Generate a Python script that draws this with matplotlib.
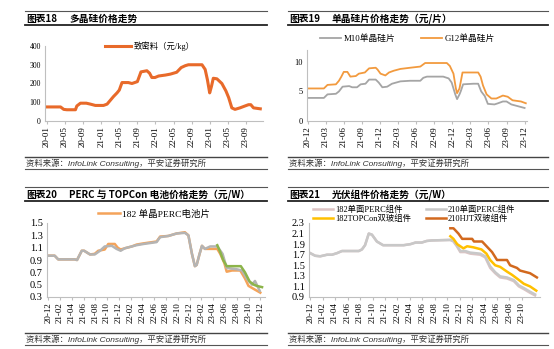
import matplotlib
matplotlib.use("Agg")
import matplotlib.pyplot as plt
from matplotlib.lines import Line2D

plt.rcParams['font.family'] = ['Liberation Serif', 'Noto Sans CJK SC']

W, H = 554, 349

# ---- data (x = months since first label month) ----
# chart 18: polysilicon, months since 2020-01
poly_x = [0, 3, 3.7, 4.4, 6.3, 6.6, 7.4, 8.7, 9.6, 10.7, 12.5, 13.3, 14, 14.7, 15.5, 16, 16.6, 18, 18.8,
          20, 20.8, 22.1, 22.7, 23.2, 23.9, 24.7, 26.2, 27.3, 28.7, 29.7, 30.6, 31.3, 34.3, 35, 35.5, 36,
          36.4, 36.8, 37.6, 38.7, 39.6, 40.2, 40.9, 41.6, 42.7, 43.8, 44.6, 45.1, 45.7, 47.2]
poly_y = [75, 75, 62, 60, 60, 80, 95, 95, 90, 83, 83, 90, 110, 130, 150, 165, 205, 205, 200,
          210, 262, 268, 255, 232, 232, 240, 245, 250, 260, 285, 295, 300, 300, 275, 220, 150,
          185, 228, 225, 200, 160, 125, 70, 62, 70, 80, 87, 87, 70, 65]
poly_ticks = ['20-01', '20-05', '20-09', '21-01', '21-05', '21-09', '22-01', '22-05', '22-09',
              '23-01', '23-05', '23-09']

# chart 19: wafers, months since 2020-12
m10_x = [0, 2.7, 3.3, 4.7, 5.2, 5.8, 6.9, 7.4, 8.2, 8.8, 9.6, 10.2, 11.3, 11.8, 12.4, 13.2, 14, 15.4, 17,
         18.7, 19.2, 19.8, 22.5, 23.4, 23.9, 24.5, 24.8, 25.2, 25.4, 25.8, 27.5, 28.3, 28.8, 29.4, 29.9,
         31, 31.6, 32.4, 33, 33.8, 34.9, 36]
m10_y = [3.9, 3.9, 4.5, 4.6, 5.0, 5.8, 5.9, 5.7, 5.7, 6.2, 6.3, 7.0, 7.0, 6.5, 5.7, 5.8, 6.3, 6.7, 6.8,
         6.8, 7.3, 7.5, 7.5, 7.2, 6.5, 4.5, 3.7, 4.5, 5.0, 6.2, 6.3, 6.3, 5.0, 4.2, 2.9,
         2.8, 3.0, 3.3, 3.3, 2.8, 2.5, 2.2]
g12_x = [0, 2.7, 3.3, 4.7, 5.2, 5.6, 6, 6.6, 7.1, 8, 8.5, 9.5, 10.2, 11.3, 11.6, 12.1, 12.9, 13.5, 14.3,
         15.4, 17, 18.7, 19.5, 23.1, 23.6, 24.2, 24.6, 24.8, 25.2, 25.7, 28.3, 28.7, 29.1, 29.7, 30.5,
         31.3, 32.4, 33.2, 34, 35.4, 36.2]
g12_y = [5.5, 5.5, 6.1, 6.2, 6.8, 7.5, 8.3, 8.3, 7.5, 7.6, 8.0, 8.2, 8.9, 9.0, 8.7, 8.0, 7.7, 8.2, 8.5,
         8.8, 9.0, 9.2, 9.8, 9.8, 9.3, 8.0, 5.5, 4.7, 5.5, 8.2, 8.2, 7.5, 6.0, 4.5, 3.8,
         3.8, 4.3, 4.1, 3.5, 3.3, 3.0]
wafer_ticks = ['20-12', '21-03', '21-06', '21-09', '21-12', '22-03', '22-06', '22-09', '22-12',
               '23-03', '23-06', '23-09', '23-12']

# chart 20: cells, months since 2020-12
cell_gray_x = [0, 1.1, 1.7, 4.5, 4.9, 5.7, 6.1, 7.1, 7.9, 8.8, 9.6, 10.8, 11.6, 12.3, 13, 14.2, 15, 16.2,
               18.4, 19, 20.4, 21.8, 23.2, 23.8, 24.4, 24.9, 25.2, 25.7, 26.1, 26.6, 27.5, 28.7, 29.6,
               30.3, 32, 32.9, 33.7, 34.6, 35.1, 35.9]
cell_gray_y = [0.97, 0.97, 0.91, 0.91, 0.90, 1.05, 1.05, 0.99, 0.99, 1.05, 1.12, 1.13, 1.08, 1.05, 1.09,
               1.12, 1.14, 1.16, 1.19, 1.27, 1.29, 1.33, 1.34, 1.30, 1.00, 0.80, 0.82, 1.00, 1.13, 1.08,
               1.12, 1.12, 1.00, 0.77, 0.75, 0.73, 0.60, 0.50, 0.56, 0.40]
perc182_x = [0, 1.1, 1.7, 4.5, 4.9, 5.7, 6.1, 7.1, 7.9, 8.5, 9.6, 10.2, 11.3, 11.8, 12.3, 13, 14.2, 15,
             16.2, 18.4, 19, 20.4, 21.8, 23.2, 23.8, 24.4, 24.9, 25.2, 25.7, 26.1, 26.6, 28.7, 29.2,
             29.9, 30.3, 31.2, 32.6, 33.4, 34, 34.9, 36]
perc182_y = [0.97, 0.97, 0.91, 0.91, 0.90, 1.05, 1.05, 0.99, 1.00, 1.05, 1.07, 1.16, 1.16, 1.10, 1.07,
             1.09, 1.12, 1.15, 1.17, 1.20, 1.28, 1.29, 1.33, 1.35, 1.30, 1.00, 0.80, 0.82, 1.00, 1.13,
             1.08, 1.08, 1.00, 0.85, 0.71, 0.73, 0.73, 0.60, 0.48, 0.43, 0.37]
topcon_cell_x = [28.7, 29.2, 29.7, 30.3, 32.7, 33.4, 34.2, 34.9, 35.4, 36.3]
topcon_cell_y = [1.14, 1.03, 0.90, 0.80, 0.80, 0.70, 0.55, 0.50, 0.48, 0.46]
cell_ticks = ['20-12', '21-02', '21-04', '21-06', '21-08', '21-10', '21-12', '22-02', '22-04', '22-06',
              '22-08', '22-10', '22-12', '23-02', '23-04', '23-06', '23-08', '23-10', '23-12']

# chart 21: modules, months since 2020-12
perc_mod_x = [0, 0.8, 1.6, 2.7, 3.5, 4.3, 5.1, 7.8, 8.3, 8.8, 9.4, 9.9, 10.7, 11.7, 15, 16.1, 16.9,
              17.9, 18.7, 19.5, 22.5, 23, 23.6, 24.1, 24.9, 25.7, 27.3, 28.1, 28.9, 29.7, 30.5, 31.6,
              32.7, 33.5, 34.3, 35.3, 36.1]
perc182_mod_y = [1.73, 1.68, 1.67, 1.70, 1.70, 1.73, 1.77, 1.77, 1.80, 1.88, 2.10, 2.08, 1.95, 1.88,
                 1.88, 1.90, 1.93, 1.93, 1.96, 1.97, 1.98, 1.95, 1.85, 1.75, 1.75, 1.72, 1.70, 1.65,
                 1.45, 1.35, 1.27, 1.25, 1.20, 1.10, 1.05, 0.98, 0.93]
perc210_mod_y = [1.73, 1.68, 1.67, 1.70, 1.70, 1.73, 1.77, 1.77, 1.80, 1.88, 2.10, 2.08, 1.95, 1.88,
                 1.88, 1.90, 1.93, 1.93, 1.96, 1.97, 1.98, 1.96, 1.87, 1.77, 1.77, 1.74, 1.72, 1.67,
                 1.48, 1.37, 1.29, 1.27, 1.22, 1.12, 1.07, 1.00, 0.95]
topcon_mod_x = [22.5, 23, 23.6, 24.6, 25.2, 26.2, 27.5, 28.3, 28.9, 29.7, 30.5, 31.6, 32.4, 33.2, 34.3,
                35.3, 36.3]
topcon_mod_y = [2.05, 2.00, 1.90, 1.82, 1.86, 1.84, 1.80, 1.72, 1.60, 1.50, 1.47, 1.38, 1.32, 1.25,
                1.15, 1.10, 1.02]
hjt_mod_x = [22.5, 23, 23.8, 24.4, 26, 26.3, 27.6, 28.4, 29.2, 30, 31.6, 32.1, 33.2, 33.7, 35.3, 36.4]
hjt_mod_y = [2.20, 2.20, 2.10, 2.00, 2.00, 1.95, 1.95, 1.85, 1.75, 1.60, 1.60, 1.50, 1.45, 1.40, 1.35,
             1.27]
module_ticks = ['20-12', '21-02', '21-04', '21-06', '21-08', '21-10', '21-12', '22-02', '22-04', '22-06',
                '22-08', '22-10', '22-12', '23-02', '23-04', '23-06', '23-08', '23-10']

fig = plt.figure(figsize=(W / 100, H / 100), dpi=100)


def px_axes(left, top, right, bottom):
    return fig.add_axes([left / W, 1 - bottom / H, (right - left) / W, (bottom - top) / H])


def hline(x0, x1, y, lw, color='#333333'):
    fig.add_artist(Line2D([x0 / W, x1 / W], [1 - y / H, 1 - y / H], lw=lw, color=color))


def frame(x0, x1, y0, num, title):
    # top rule, title, thick rule, source block
    hline(x0, x1, y0, 0.8, '#555555')
    fig.text((x0 + 1) / W, 1 - (y0 + 8) / H, num, family='Noto Sans CJK SC', weight='bold',
             fontsize=7, va='center')
    fig.text((x0 + 44) / W, 1 - (y0 + 8) / H, title, family='Noto Sans CJK SC', weight='bold',
             fontsize=7, va='center')
    hline(x0, x1, y0 + 14, 1.3, '#222222')
    hline(x0, x1, y0 + 146, 1.0, '#444444')
    fig.text((x0 + 1) / W, 1 - (y0 + 152) / H, '资料来源：InfoLink Consulting，平安证券研究所',
             family=['Liberation Sans', 'Noto Sans CJK SC'], style='italic', fontsize=6,
             color='#333333', va='center')
    hline(x0, x1, y0 + 158, 0.8, '#555555')


def style_axes(ax, labels, step, ysize):
    for s in ['top', 'right']:
        ax.spines[s].set_visible(False)
    ax.spines['left'].set_color('#BFBFBF')
    ax.spines['bottom'].set_color('#BFBFBF')
    ax.spines['left'].set_linewidth(0.8)
    ax.spines['bottom'].set_linewidth(0.8)
    ax.set_xticks([i * step for i in range(len(labels))])
    ax.set_xticklabels(labels, rotation=90, fontsize=6.5)
    ax.tick_params(axis='x', length=2, color='#BFBFBF', pad=2)
    ax.tick_params(axis='y', length=0, labelsize=ysize, pad=3)


frame(25, 267, 11, '图表18', '多晶硅价格走势')
frame(288, 548, 11, '图表19', '单晶硅片价格走势（元/片）')
frame(25, 267, 187, '图表20', 'PERC 与 TOPCon 电池价格走势（元/W）')
frame(288, 548, 187, '图表21', '光伏组件价格走势（元/W）')

# chart 18
ax1 = px_axes(45, 46, 263, 121)
ax1.plot(poly_x, poly_y, color='#E86A2A', lw=2.2, label='致密料（元/kg）')
ax1.set_xlim(-0.44, 47.8)
ax1.set_ylim(0, 400)
ax1.set_yticks([0, 100, 200, 300, 400])
style_axes(ax1, poly_ticks, 4, 5.5)
ax1.legend(loc='center', bbox_to_anchor=(0.48, 1.0), frameon=False, fontsize=6,
           handlelength=3.2, borderpad=0, handletextpad=0.3)

# chart 19
ax2 = px_axes(307, 50, 527, 121)
ax2.plot(m10_x, m10_y, color='#A5A5A5', lw=1.3, label='M10单晶硅片')
ax2.plot(g12_x, g12_y, color='#F29A3E', lw=1.3, label='G12单晶硅片')
ax2.set_xlim(-0.1, 36.4)
ax2.set_ylim(0, 12)
ax2.set_yticks([0, 5, 10])
style_axes(ax2, wafer_ticks, 3, 6)
ax2.legend(loc='center', bbox_to_anchor=(0.457, 1.155), frameon=False, fontsize=6.3, ncol=2,
           handlelength=2.4, borderpad=0, handletextpad=0.3, columnspacing=3.0)

# chart 20
ax3 = px_axes(47, 223, 265, 297)
ax3.plot(cell_gray_x, cell_gray_y, color='#B4B4B4', lw=1.8)
ax3.plot(perc182_x, perc182_y, color='#F4A35A', lw=1.8, label='182 单晶PERC电池片', zorder=1.5)
ax3.plot(topcon_cell_x, topcon_cell_y, color='#8CB44A', lw=1.8)
ax3.set_xlim(-0.2, 36.8)
ax3.set_ylim(0.3, 1.5)
ax3.set_yticks([0.3, 0.5, 0.7, 0.9, 1.1, 1.3, 1.5])
style_axes(ax3, cell_ticks, 2, 7.5)
ax3.legend(loc='center', bbox_to_anchor=(0.49, 1.12), frameon=False, fontsize=6.8,
           handlelength=2.3, borderpad=0, handletextpad=0.25)

# chart 21
ax4 = px_axes(309, 223, 540, 297)
l1, = ax4.plot(perc_mod_x, perc182_mod_y, color='#DDC4C4', lw=1.8, label='182单面PERC组件')
l2, = ax4.plot(perc_mod_x, perc210_mod_y, color='#C8C8C8', lw=1.8, label='210单面PERC组件')
l3, = ax4.plot(topcon_mod_x, topcon_mod_y, color='#FFC000', lw=1.8, label='182TOPCon双玻组件')
l4, = ax4.plot(hjt_mod_x, hjt_mod_y, color='#D2691E', lw=1.8, label='210HJT双玻组件')
ax4.set_xlim(-0.2, 36.9)
ax4.set_ylim(0.9, 2.3)
ax4.set_yticks([0.9, 1.1, 1.3, 1.5, 1.7, 1.9, 2.1, 2.3])
style_axes(ax4, module_ticks, 2, 7.5)
ax4.legend(handles=[l1, l3, l2, l4], loc='center', bbox_to_anchor=(0.455, 1.115), frameon=False,
           fontsize=6, ncol=2, handlelength=2.4, borderpad=0, handletextpad=0.25,
           columnspacing=1.8, labelspacing=0.1)

fig.savefig('out.png', dpi=100, facecolor='white')
